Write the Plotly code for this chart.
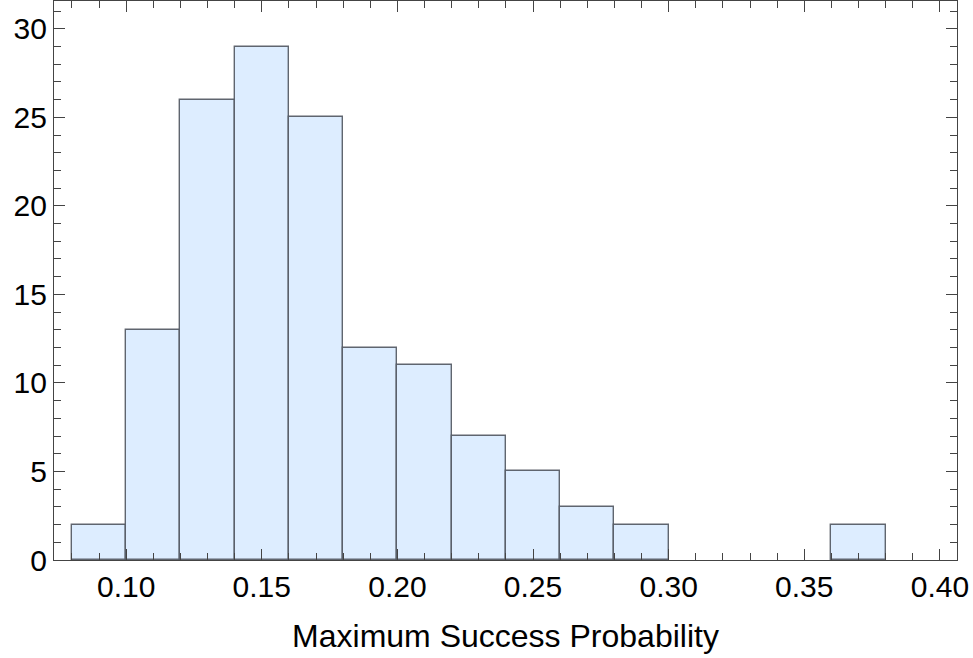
import plotly.graph_objects as go

bin_start = [0.08, 0.10, 0.12, 0.14, 0.16, 0.18, 0.20, 0.22, 0.24, 0.26, 0.28, 0.30, 0.32, 0.34, 0.36]
counts = [2, 13, 26, 29, 25, 12, 11, 7, 5, 3, 2, 0, 0, 0, 2]
bin_width = 0.02
x_ticks = [0.10, 0.15, 0.20, 0.25, 0.30, 0.35, 0.40]
x_tick_text = ["0.10", "0.15", "0.20", "0.25", "0.30", "0.35", "0.40"]
y_ticks = [0, 5, 10, 15, 20, 25, 30]
x_title = "Maximum Success Probability"

xs = [s + bin_width / 2 for s, c in zip(bin_start, counts) if c > 0]
ys = [c for c in counts if c > 0]

fig = go.Figure(go.Bar(
    x=xs, y=ys, width=bin_width,
    marker=dict(color="rgb(221,237,255)", line=dict(color="rgba(80,85,95,0.9)", width=1.4)),
))

axis_common = dict(
    showline=True, mirror="allticks", linecolor="#444", linewidth=1.3,
    ticks="inside", ticklen=11, tickwidth=1.2, tickcolor="#444",
    showgrid=False, zeroline=False, automargin=False,
    tickfont=dict(family="Liberation Sans, Arial", size=30, color="black"),
)

fig.update_layout(
    width=973, height=658,
    margin=dict(l=54, r=16, t=1, b=98),
    plot_bgcolor="white", paper_bgcolor="white",
    showlegend=False, bargap=0,
    xaxis=dict(
        range=[0.0734, 0.4063], tickvals=x_ticks, ticktext=x_tick_text,
        minor=dict(dtick=0.01, tick0=0, ticks="inside", ticklen=7, tickwidth=1.1, tickcolor="#444"),
        title=dict(text=x_title, font=dict(family="Liberation Sans, Arial", size=32, color="black"), standoff=22),
        **axis_common,
    ),
    yaxis=dict(
        range=[0, 31.57], tickvals=y_ticks,
        minor=dict(dtick=1, tick0=0, ticks="inside", ticklen=7, tickwidth=1.1, tickcolor="#444"),
        **axis_common,
    ),
)

fig.write_html("out.html", config={"displayModeBar": False},
               post_script="document.body.style.margin='0';")
